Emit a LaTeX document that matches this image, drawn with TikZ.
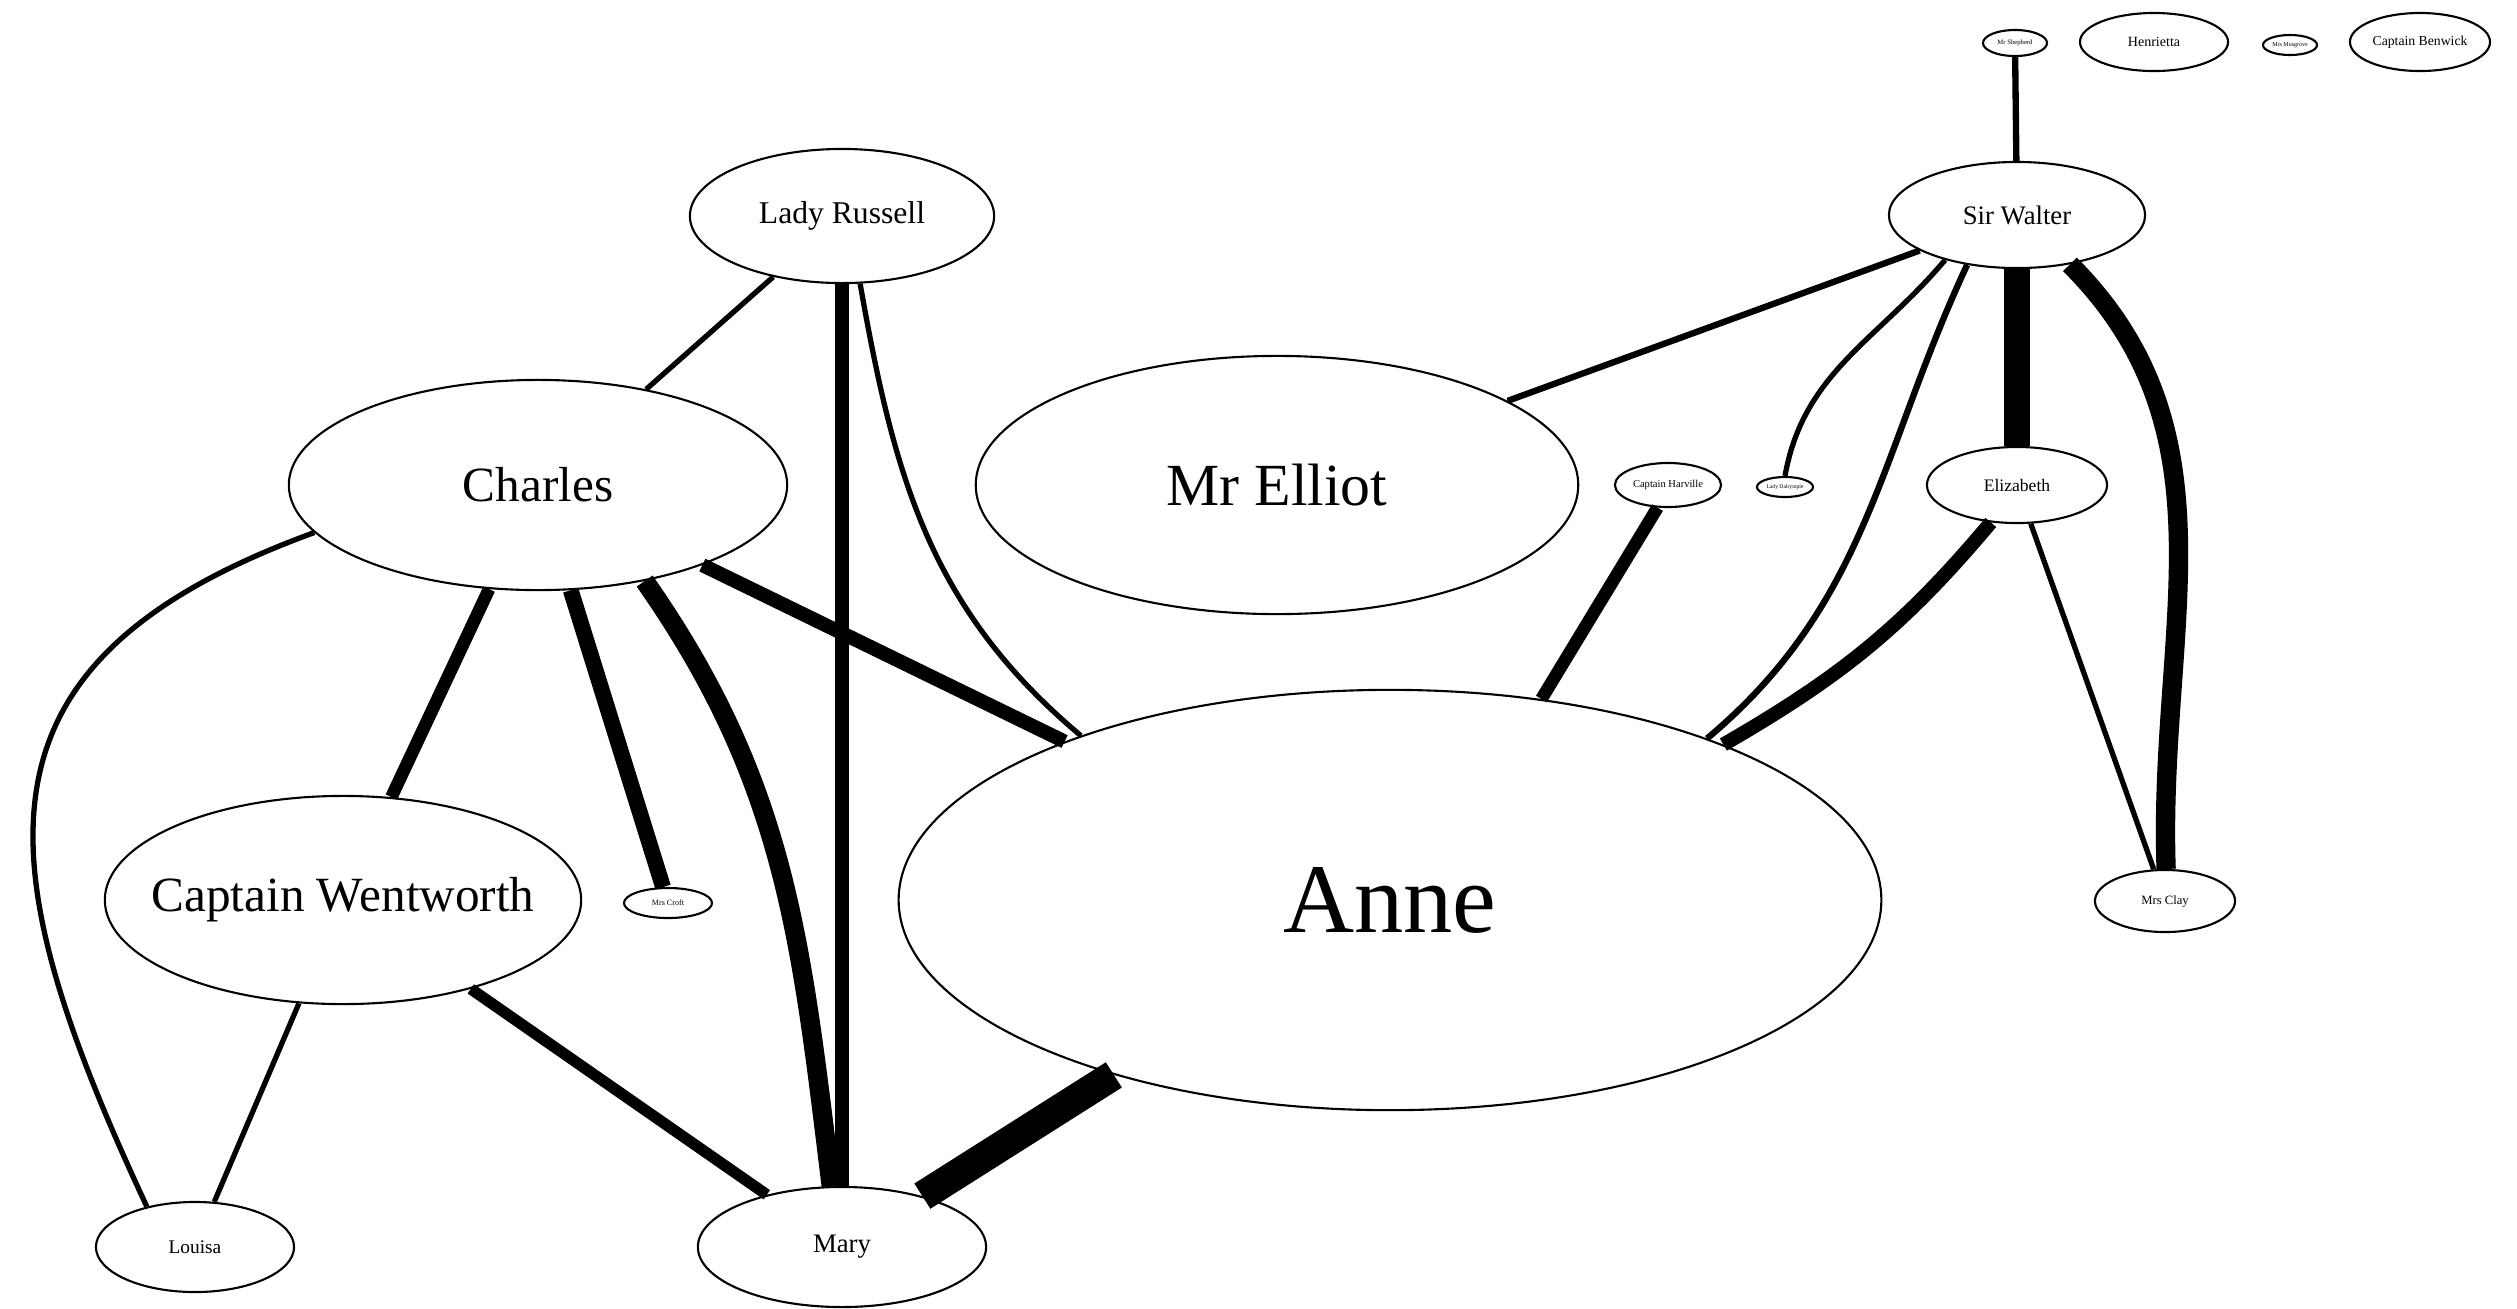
\documentclass[tikz,border=0pt]{standalone}
\usepackage{fontspec}
\setmainfont{Liberation Serif}
\usetikzlibrary{shapes.geometric}
\newcommand{\lbl}[2]{\fontsize{#1}{#1}\selectfont\makebox[0pt]{#2}}
\begin{document}
\begin{tikzpicture}[x=0.01cm, y=-0.01cm,
    person/.style 2 args={draw, ellipse, line width=0.6pt, inner sep=0pt, minimum width=#1*0.02cm, minimum height=#2*0.02cm},
    tie/.style={line width=#1}]
 \useasboundingbox (0,0) rectangle (2517,1308);
 \node[person={491}{210}] (anne) at (1390,900) {\lbl{28}{Anne}};
 \node[person={301}{129}] (elliot) at (1277,485) {\lbl{17}{Mr Elliot}};
 \node[person={249}{105}] (charles) at (538,485) {\lbl{14}{Charles}};
 \node[person={238}{104}] (wentworth) at (343,900) {\lbl{14}{Captain Wentworth}};
 \node[person={152}{67}] (russell) at (842,216) {\lbl{9}{Lady Russell}};
 \node[person={144}{60}] (mary) at (842,1247) {\lbl{7.6}{Mary}};
 \node[person={99}{45}] (louisa) at (195,1247) {\lbl{5.5}{Louisa}};
 \node[person={44}{15}] (croft) at (668,903) {\lbl{2.3}{Mrs Croft}};
 \node[person={128}{53}] (walter) at (2017,215) {\lbl{7.6}{Sir Walter}};
 \node[person={90}{38}] (elizabeth) at (2017,485) {\lbl{5}{Elizabeth}};
 \node[person={53}{22}] (harville) at (1668,485) {\lbl{3}{Captain Harville}};
 \node[person={28}{10}] (dalrymple) at (1785,487) {\lbl{1.6}{Lady Dalrymple}};
 \node[person={70}{31}] (clay) at (2165,901) {\lbl{3.6}{Mrs Clay}};
 \node[person={32}{13}] (shepherd) at (2015,43) {\lbl{1.9}{Mr Shepherd}};
 \node[person={74}{29}] (henrietta) at (2154,42) {\lbl{4}{Henrietta}};
 \node[person={27}{10}] (musgrove) at (2290,45) {\lbl{1.7}{Mrs Musgrove}};
 \node[person={70}{29}] (benwick) at (2420,42) {\lbl{3.9}{Captain Benwick}};
 \draw[tie=1.5pt] (russell) -- (charles);
 \draw[tie=3.8pt] (russell) -- (mary);
 \draw[tie=1.5pt] (russell.-75) to[out=-80, in=140] (anne.152);
 \draw[tie=4pt] (charles) -- (anne);
 \draw[tie=3.6pt] (charles) -- (wentworth);
 \draw[tie=4.5pt] (charles) -- (croft);
 \draw[tie=5.5pt] (charles.-42) to[out=-55, in=97] (mary.100);
 \draw[tie=1.5pt] (charles.-168) to[out=200, in=115, looseness=1.4] (louisa.140);
 \draw[tie=1.5pt] (wentworth) -- (louisa);
 \draw[tie=3.2pt] (wentworth) -- (mary);
 \draw[tie=8.5pt] (anne) -- (mary);
 \draw[tie=1.8pt] (walter) -- (elliot);
 \draw[tie=1.5pt] (walter.-148) to[out=-130, in=80] (dalrymple.90);
 \draw[tie=1.8pt] (walter.-135) to[out=-115, in=40] (anne.27);
 \draw[tie=7.5pt] (walter) -- (elizabeth);
 \draw[tie=5.5pt] (walter.-43) to[out=-45, in=92] (clay.88);
 \draw[tie=4pt] (elizabeth.-125) to[out=-130, in=30] (anne.25);
 \draw[tie=1.5pt] (elizabeth) -- (clay);
 \draw[tie=3.6pt] (harville.-115) -- (anne.53);
 \draw[tie=1.8pt] (shepherd) -- (walter);
\end{tikzpicture}
\end{document}
